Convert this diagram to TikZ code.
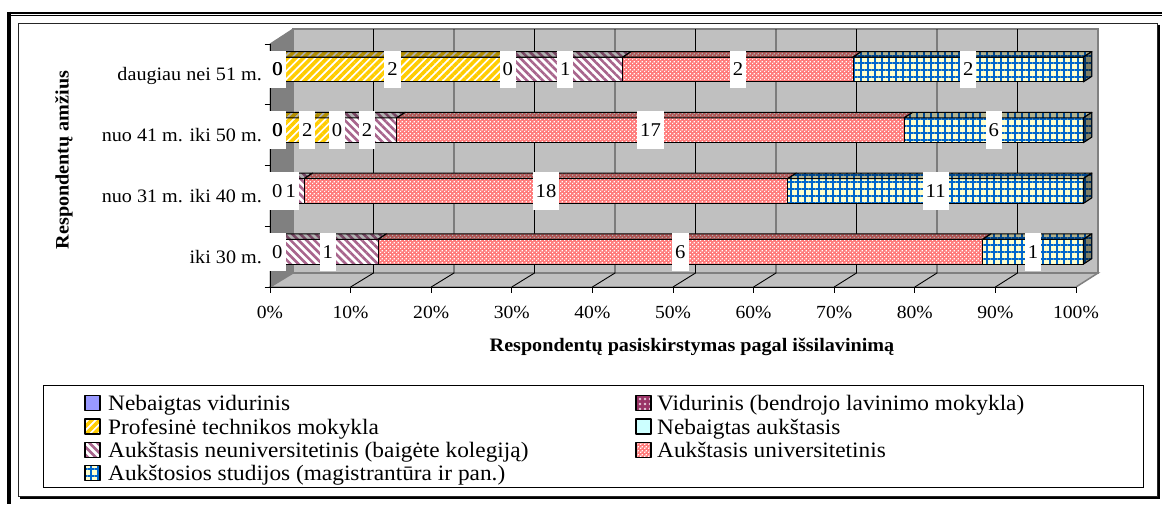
\documentclass[tikz,border=0pt]{standalone}
\usepackage{fontspec}
\setmainfont{Liberation Serif}[FakeStretch=1.06]
\usetikzlibrary{patterns.meta}

\definecolor{wallgray}{HTML}{C0C0C0}
\definecolor{sidegray}{HTML}{808080}
\definecolor{profyellow}{HTML}{FFCC00}
\definecolor{neuplum}{HTML}{993366}
\definecolor{stripeplum}{HTML}{A8648C}
\definecolor{unipink}{HTML}{FF7C7C}
\definecolor{gridblue}{HTML}{0066CC}
\definecolor{gridcream}{HTML}{FFFFCC}
\definecolor{nvblue}{HTML}{9999FF}
\definecolor{nacyan}{HTML}{CCFFFF}

% small white squares on a coloured ground
\tikzdeclarepattern{
  name=whitechecks,
  type=uncolored,
  bottom left={(0pt,0pt)},
  top right={(4pt,4pt)},
  tile size={(4pt,4pt)},
  code={
    \pgfpathrectangle{\pgfpoint{0pt}{0pt}}{\pgfpoint{1.5pt}{1.5pt}}
    \pgfpathrectangle{\pgfpoint{2pt}{2pt}}{\pgfpoint{1.5pt}{1.5pt}}
    \pgfusepath{fill}
  }
}

\tikzset{
  faceedge/.style={postaction={draw=black, line width=1.1pt, line join=round}},
  topshade/.style={postaction={fill=black, fill opacity=0.3}},
  sideshade/.style={postaction={fill=black, fill opacity=0.5}},
  profface/.style={fill=white, postaction={pattern={Lines[angle=45,distance=5.6pt,line width=3.6pt]}, pattern color=profyellow}},
  neuface/.style={fill=white, postaction={pattern={Lines[angle=-45,distance=5.6pt,line width=2.6pt]}, pattern color=stripeplum}},
  uniface/.style={fill=unipink, postaction={pattern=whitechecks, pattern color=white}},
  magface/.style={fill=gridcream, postaction={pattern={Hatch[angle=0,distance=7pt,line width=1.8pt]}, pattern color=gridblue}},
  vidface/.style={fill=neuplum, postaction={pattern={Dots[radius=1.3pt,distance=5pt]}, pattern color=white!75!neuplum}},
  nvface/.style={fill=nvblue},
  naface/.style={fill=nacyan},
  dlabel/.style={fill=white, inner xsep=3pt, inner ysep=0pt, minimum height=37.6pt, font=\fontsize{19.5}{21}\selectfont},
  dlabelover/.style={inner xsep=3pt, inner ysep=0pt, minimum height=37.6pt, font=\fontsize{19.5}{21}\selectfont},
  catlab/.style={anchor=base east, inner sep=0pt, font=\fontsize{19}{21}\selectfont},
  ticklab/.style={anchor=base, inner sep=0pt, font=\fontsize{18.5}{20}\selectfont},
  legtext/.style={anchor=base west, inner sep=0pt, font=\fontsize{22}{24}\selectfont},
  axtitle/.style={inner sep=0pt, font=\bfseries\fontsize{19}{21}\selectfont},
}

% one stacked segment: front face and top face
% #1 band centre, #2 start share, #3 end share, #4 face style
\newcommand{\barpiece}[4]{%
  \pgfmathsetmacro\bxa{277.4+806*(#2)}%
  \pgfmathsetmacro\bxb{277.4+806*(#3)}%
  \pgfmathsetmacro\byt{#1-17.3}%
  \pgfmathsetmacro\byb{#1+7.5}%
  \path[#4,faceedge] (\bxa,\byb) rectangle (\bxb,\byt);
  \path[#4,topshade,faceedge] (\bxa,\byt) -- (\bxa+8.4,\byt-5.5) -- (\bxb+8.4,\byt-5.5) -- (\bxb,\byt) -- cycle;
}
% right end face of a bar at 100 %
\newcommand{\barend}[2]{%
  \pgfmathsetmacro\bxb{277.4+806}%
  \pgfmathsetmacro\byt{#1-17.3}%
  \pgfmathsetmacro\byb{#1+7.5}%
  \path[#2,sideshade,faceedge] (\bxb,\byt) -- (\bxb+8.4,\byt-5.5) -- (\bxb+8.4,\byb-5.5) -- (\bxb,\byb) -- cycle;
}
% legend key
\newcommand{\legkey}[3]{%
  \path[#3,faceedge] (#1,#2-7.5) rectangle (#1+15,#2+7.5);
}

\begin{document}
\begin{tikzpicture}[x=1pt,y=-1pt]
\useasboundingbox (0,0) rectangle (1162,504);
\fill[white] (0,0) rectangle (1162,504);

% page frame
\draw[line width=2pt] (7,12.6) -- (1162,12.6);
\draw[line width=1pt] (10.5,15.4) -- (1162,15.4);
\draw[line width=3.6pt] (8.8,11.6) -- (8.8,504);

% chart area with shadow
\draw[line width=1pt, black!85] (18.5,23.5) rectangle (1157.8,496.5);
\draw[line width=1.6pt] (1159.2,24.5) -- (1159.2,497.9) -- (19.5,497.9);

% walls and floor
\filldraw[fill=wallgray, draw=sidegray, line width=1.5pt] (293,29) rectangle (1098,273);
\filldraw[fill=sidegray, draw=sidegray, line width=1pt] (270,44) -- (293,29) -- (293,273) -- (270,287) -- cycle;
\filldraw[fill=wallgray, draw=sidegray, line width=1.5pt] (270,287) -- (293,273) -- (1098,273) -- (1076,287) -- cycle;

% gridlines
\foreach \k in {1,...,9}
  \draw[black, line width=0.9pt] (293+80.5*\k,29) -- (293+80.5*\k,273) -- (270+80.6*\k,287);

% axes and ticks
\draw[black, line width=1pt] (270,44) -- (270,287) -- (1076,287);
\foreach \k in {0,...,10}
  \draw[line width=0.9pt] (270+80.6*\k,287) -- ++(0,5.5);
\foreach \j in {0,...,4}
  \draw[line width=0.9pt] (264.5,44+60.75*\j) -- (270,44+60.75*\j);

% bars: daugiau nei 51 m.
\barpiece{74.375}{0}{2/7}{profface}
\barpiece{74.375}{2/7}{3/7}{neuface}
\barpiece{74.375}{3/7}{5/7}{uniface}
\barpiece{74.375}{5/7}{1}{magface}
\barend{74.375}{magface}
% nuo 41 m. iki 50 m.
\barpiece{135.125}{0}{2/27}{profface}
\barpiece{135.125}{2/27}{4/27}{neuface}
\barpiece{135.125}{4/27}{21/27}{uniface}
\barpiece{135.125}{21/27}{1}{magface}
\barend{135.125}{magface}
% nuo 31 m. iki 40 m.
\barpiece{195.875}{0}{1/30}{neuface}
\barpiece{195.875}{1/30}{19/30}{uniface}
\barpiece{195.875}{19/30}{1}{magface}
\barend{195.875}{magface}
% iki 30 m.
\barpiece{256.625}{0}{1/8}{neuface}
\barpiece{256.625}{1/8}{7/8}{uniface}
\barpiece{256.625}{7/8}{1}{magface}
\barend{256.625}{magface}

% data labels
\node[dlabel] (a0) at (277.4,69.475) {0};
\node[dlabelover] (a0b) at (277.9,69.475) {0};
\node[dlabel] (a1) at ({277.4+806*(1/7)},69.475) {2};
\node[dlabel] (a2) at ({277.4+806*(2/7)},69.475) {0};
\node[dlabel] (a3) at ({277.4+806*(2.5/7)},69.475) {1};
\node[dlabel] (a4) at ({277.4+806*(4/7)},69.475) {2};
\node[dlabel] (a5) at ({277.4+806*(6/7)},69.475) {2};

\node[dlabel] (b0) at (277.4,130.225) {0};
\node[dlabelover] (b0b) at (277.9,130.225) {0};
\node[dlabel] (b1) at ({277.4+806*(1/27)},130.225) {2};
\node[dlabel] (b2) at ({277.4+806*(2/27)},130.225) {0};
\node[dlabel] (b3) at ({277.4+806*(3/27)},130.225) {2};
\node[dlabel] (b4) at ({277.4+806*(12.5/27)},130.225) {17};
\node[dlabel] (b5) at ({277.4+806*(24/27)},130.225) {6};

\node[dlabel] (c0) at (277.4,190.975) {0};
\node[dlabel] (c1) at ({277.4+806*(1/60)},190.975) {1};
\node[dlabel] (c2) at ({277.4+806*(1/3)},190.975) {18};
\node[dlabel] (c3) at ({277.4+806*(24.5/30)},190.975) {11};

\node[dlabel] (d0) at (277.4,251.725) {0};
\node[dlabel] (d1) at ({277.4+806*(1/16)},251.725) {1};
\node[dlabel] (d2) at ({277.4+806*(1/2)},251.725) {6};
\node[dlabel] (d3) at ({277.4+806*(7.5/8)},251.725) {1};

% category labels
\node[catlab] (cat0) at (262,80.9) {daugiau nei 51 m.};
\node[catlab] (cat1) at (262,141.6) {nuo 41 m. iki 50 m.};
\node[catlab] (cat2) at (262,202.4) {nuo 31 m. iki 40 m.};
\node[catlab] (cat3) at (262,263.1) {iki 30 m.};

% value axis labels
\foreach \k [evaluate=\k as \pc using int(10*\k)] in {0,...,10}
  \node[ticklab] (tick\k) at (270+80.6*\k,318) {\pc\%};

% axis titles
\node[axtitle] (xtitle) at (692,347) {Respondentų pasiskirstymas pagal išsilavinimą};
\node[axtitle, rotate=90] (ytitle) at (64,160) {Respondentų amžius};

% legend
\draw[line width=0.9pt] (43,385.5) rectangle (1143,487);
\legkey{85}{403.3}{nvface}
\legkey{85}{426.5}{profface}
\legkey{85}{450}{neuface}
\legkey{85}{473.3}{magface}
\legkey{636}{403.3}{vidface}
\legkey{636}{426.5}{naface}
\legkey{636}{450}{uniface}
\node[legtext] (k1) at (108,410.8) {Nebaigtas vidurinis};
\node[legtext] (k2) at (108,434) {Profesinė technikos mokykla};
\node[legtext] (k3) at (108,457.5) {Aukštasis neuniversitetinis (baigėte kolegiją)};
\node[legtext] (k4) at (108,480.8) {Aukštosios studijos (magistrantūra ir pan.)};
\node[legtext] (k5) at (657,410.8) {Vidurinis (bendrojo lavinimo mokykla)};
\node[legtext] (k6) at (657,434) {Nebaigtas aukštasis};
\node[legtext] (k7) at (657,457.5) {Aukštasis universitetinis};
\end{tikzpicture}
\end{document}
